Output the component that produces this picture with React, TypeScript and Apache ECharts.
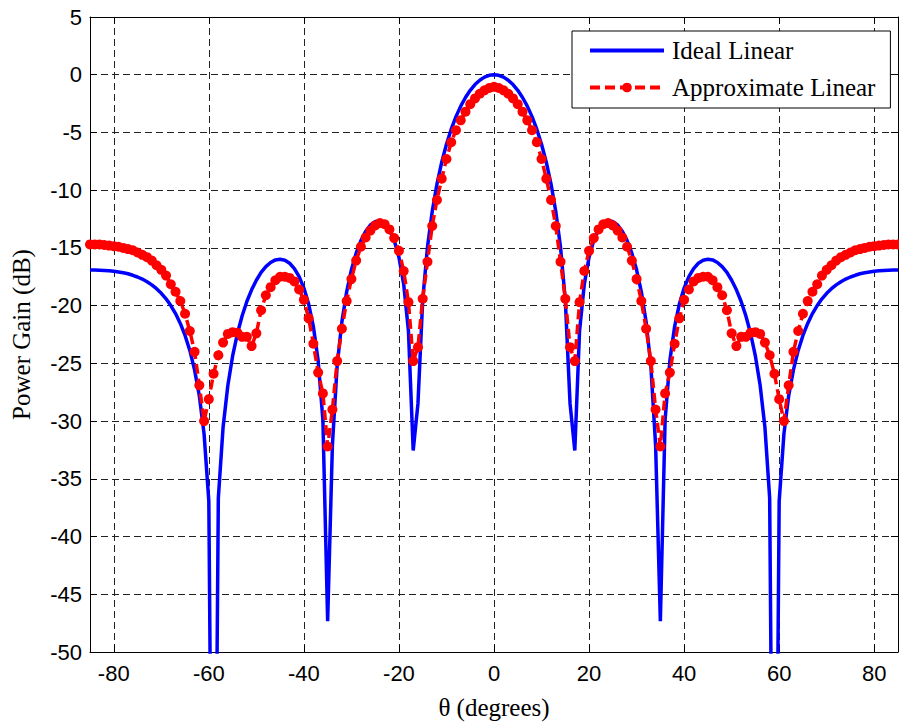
import React, { useEffect, useRef } from 'react';
import * as echarts from 'echarts';

const thetaDeg = [
  -85, -84, -83, -82, -81, -80, -79, -78, -77, -76,
  -75, -74, -73, -72, -71, -70, -69, -68, -67, -66,
  -65, -64, -63, -62, -61, -60, -59, -58, -57, -56,
  -55, -54, -53, -52, -51, -50, -49, -48, -47, -46,
  -45, -44, -43, -42, -41, -40, -39, -38, -37, -36,
  -35, -34, -33, -32, -31, -30, -29, -28, -27, -26,
  -25, -24, -23, -22, -21, -20, -19, -18, -17, -16,
  -15, -14, -13, -12, -11, -10, -9, -8, -7, -6,
  -5, -4, -3, -2, -1, 0, 1, 2, 3, 4,
  5, 6, 7, 8, 9, 10, 11, 12, 13, 14,
  15, 16, 17, 18, 19, 20, 21, 22, 23, 24,
  25, 26, 27, 28, 29, 30, 31, 32, 33, 34,
  35, 36, 37, 38, 39, 40, 41, 42, 43, 44,
  45, 46, 47, 48, 49, 50, 51, 52, 53, 54,
  55, 56, 57, 58, 59, 60, 61, 62, 63, 64,
  65, 66, 67, 68, 69, 70, 71, 72, 73, 74,
  75, 76, 77, 78, 79, 80, 81, 82, 83, 84,
  85,
];

const idealLinearDb = [
  -16.91, -16.92, -16.93, -16.95, -16.98, -17.02, -17.08, -17.15, -17.24, -17.37,
  -17.52, -17.70, -17.93, -18.20, -18.53, -18.93, -19.41, -19.99, -20.69, -21.54,
  -22.58, -23.88, -25.56, -27.81, -31.11, -36.93, -88.15, -36.67, -30.53, -26.92,
  -24.38, -22.44, -20.90, -19.64, -18.63, -17.80, -17.12, -16.62, -16.26, -16.04,
  -15.98, -16.07, -16.33, -16.79, -17.49, -18.48, -19.86, -21.82, -24.76, -29.89,
  -47.33, -32.08, -25.20, -21.40, -18.81, -16.90, -15.46, -14.36, -13.56, -13.01,
  -12.72, -12.67, -12.88, -13.42, -14.34, -15.81, -18.14, -22.20, -32.55, -28.49,
  -19.50, -14.95, -11.84, -9.47, -7.58, -6.02, -4.72, -3.63, -2.72, -1.97,
  -1.35, -0.85, -0.48, -0.21, -0.05, 0,
  -0.05, -0.21, -0.48, -0.85, -1.35, -1.97, -2.72, -3.63, -4.72, -6.02,
  -7.58, -9.47, -11.84, -14.95, -19.50, -28.49, -32.55, -22.20, -18.14, -15.81,
  -14.34, -13.42, -12.88, -12.67, -12.72, -13.01, -13.56, -14.36, -15.46, -16.90,
  -18.81, -21.40, -25.20, -32.08, -47.33, -29.89, -24.76, -21.82, -19.86, -18.48,
  -17.49, -16.79, -16.33, -16.07, -15.98, -16.04, -16.26, -16.62, -17.12, -17.80,
  -18.63, -19.64, -20.90, -22.44, -24.38, -26.92, -30.53, -36.67, -88.15, -36.93,
  -31.11, -27.81, -25.56, -23.88, -22.58, -21.54, -20.69, -19.99, -19.41, -18.93,
  -18.53, -18.20, -17.93, -17.70, -17.52, -17.37, -17.24, -17.15, -17.08, -17.02,
  -16.98, -16.95, -16.93, -16.92, -16.91,
];

const approxLinearDb = [
  -14.7, -14.7, -14.7, -14.75, -14.8, -14.85, -14.9, -15.0, -15.1, -15.2,
  -15.4, -15.6, -15.8, -16.1, -16.5, -16.9, -17.4, -18.15, -18.8, -19.6,
  -20.7, -22.2, -24.0, -26.9, -30.0, -28.1, -25.9, -24.3, -23.2, -22.45,
  -22.3, -22.35, -22.7, -22.7, -23.5, -22.4, -20.4, -19.1, -18.4, -17.8,
  -17.5, -17.5, -17.6, -17.9, -18.6, -19.5, -21.1, -23.3, -25.8, -27.6,
  -32.2, -29.0, -24.8, -22.0, -19.6, -17.7, -16.1, -14.9, -14.1, -13.5,
  -13.05, -12.85, -12.95, -13.4, -14.15, -15.25, -17.0, -19.7, -24.8, -23.6,
  -19.4, -16.2, -13.1, -10.85, -9.0, -7.3, -5.85, -4.8, -3.95, -3.2,
  -2.55, -2.05, -1.65, -1.35, -1.15, -1.05,
  -1.15, -1.35, -1.65, -2.05, -2.55, -3.2, -3.95, -4.8, -5.85, -7.3,
  -9.0, -10.85, -13.1, -16.2, -19.4, -23.6, -24.8, -19.7, -17.0, -15.25,
  -14.15, -13.4, -12.95, -12.85, -13.05, -13.5, -14.1, -14.9, -16.1, -17.7,
  -19.6, -22.0, -24.8, -29.0, -32.2, -27.6, -25.8, -23.3, -21.1, -19.5,
  -18.6, -17.9, -17.6, -17.5, -17.5, -17.8, -18.4, -19.1, -20.4, -22.4,
  -23.5, -22.7, -22.7, -22.35, -22.3, -22.45, -23.2, -24.3, -25.9, -28.1,
  -30.0, -26.9, -24.0, -22.2, -20.7, -19.6, -18.8, -18.15, -17.4, -16.9,
  -16.5, -16.1, -15.8, -15.6, -15.4, -15.2, -15.1, -15.0, -14.9, -14.85,
  -14.8, -14.75, -14.7, -14.7, -14.7,
];

const seriesNames = ['Ideal Linear', 'Approximate Linear'];
const xTitle = 'θ (degrees)';
const yTitle = 'Power Gain (dB)';

export default function App() {
  const ref = useRef<HTMLDivElement>(null);

  useEffect(() => {
    document.body.style.margin = '0';
    const chart = echarts.init(ref.current!, null, { renderer: 'svg' });

    const sansFont = 'Liberation Sans, Arial, Helvetica, sans-serif';
    const serifFont = 'Liberation Serif, Times New Roman, serif';
    const gridLine = { show: true, lineStyle: { color: '#222', width: 1, type: [7, 4] } };
    const frameLine = { show: true, onZero: false, lineStyle: { color: '#000', width: 1 } };
    const tick = { show: true, inside: true, length: 7, lineStyle: { color: '#000', width: 1 } };
    const tickFont = { fontFamily: sansFont, fontSize: 22, color: '#000' };
    const titleFont = { fontFamily: serifFont, fontSize: 25, color: '#000' };

    const xBase = { type: 'value', min: -85, max: 85, splitNumber: 8, minInterval: 20, maxInterval: 20 };
    const yBase = { type: 'value', min: -50, max: 5, interval: 5 };

    chart.setOption({
      animation: false,
      backgroundColor: '#fff',
      grid: { left: 90, right: 1, top: 17, bottom: 71, containLabel: false },
      legend: {
        orient: 'vertical',
        left: 572,
        top: 31,
        padding: [7, 15, 8, 16],
        itemWidth: 74,
        itemHeight: 12,
        itemGap: 12,
        backgroundColor: '#fff',
        borderColor: '#000',
        borderWidth: 1,
        borderRadius: 0,
        selectedMode: false,
        textStyle: { ...titleFont, padding: [0, 0, 0, 3] },
        data: [
          { name: seriesNames[0], itemStyle: { opacity: 0 }, lineStyle: { width: 4 } },
          { name: seriesNames[1], lineStyle: { width: 4 } },
        ],
      },
      xAxis: [
        {
          ...xBase,
          position: 'bottom',
          axisLine: frameLine,
          axisTick: tick,
          axisLabel: { ...tickFont, margin: 10, showMinLabel: false, showMaxLabel: false },
          splitLine: gridLine,
          name: xTitle,
          nameLocation: 'middle',
          nameGap: 43,
          nameTextStyle: titleFont,
        },
        {
          ...xBase,
          position: 'top',
          axisLine: frameLine,
          axisTick: tick,
          axisLabel: { show: false },
          splitLine: { show: false },
        },
      ],
      yAxis: [
        {
          ...yBase,
          position: 'left',
          axisLine: frameLine,
          axisTick: tick,
          axisLabel: { ...tickFont, margin: 8 },
          splitLine: gridLine,
          name: yTitle,
          nameLocation: 'middle',
          nameGap: 56,
          nameTextStyle: titleFont,
        },
        {
          ...yBase,
          position: 'right',
          axisLine: frameLine,
          axisTick: tick,
          axisLabel: { show: false },
          splitLine: { show: false },
        },
      ],
      series: [
        {
          name: seriesNames[0],
          type: 'line',
          xAxisIndex: 0,
          yAxisIndex: 0,
          data: thetaDeg.map((t, i) => [t, idealLinearDb[i]]),
          showSymbol: false,
          symbol: 'none',
          clip: true,
          lineStyle: { color: '#0000ff', width: 3.5 },
          itemStyle: { color: '#0000ff' },
          z: 2,
        },
        {
          name: seriesNames[1],
          type: 'line',
          xAxisIndex: 0,
          yAxisIndex: 0,
          data: thetaDeg.map((t, i) => [t, approxLinearDb[i]]),
          symbol: 'circle',
          symbolSize: 10,
          clip: true,
          lineStyle: { color: '#ff0000', width: 3.5, type: [10, 5] },
          itemStyle: { color: '#ff0000' },
          z: 3,
        },
      ],
    });

    return () => chart.dispose();
  }, []);

  return <div ref={ref} style={{ width: 899, height: 725 }} />;
}
